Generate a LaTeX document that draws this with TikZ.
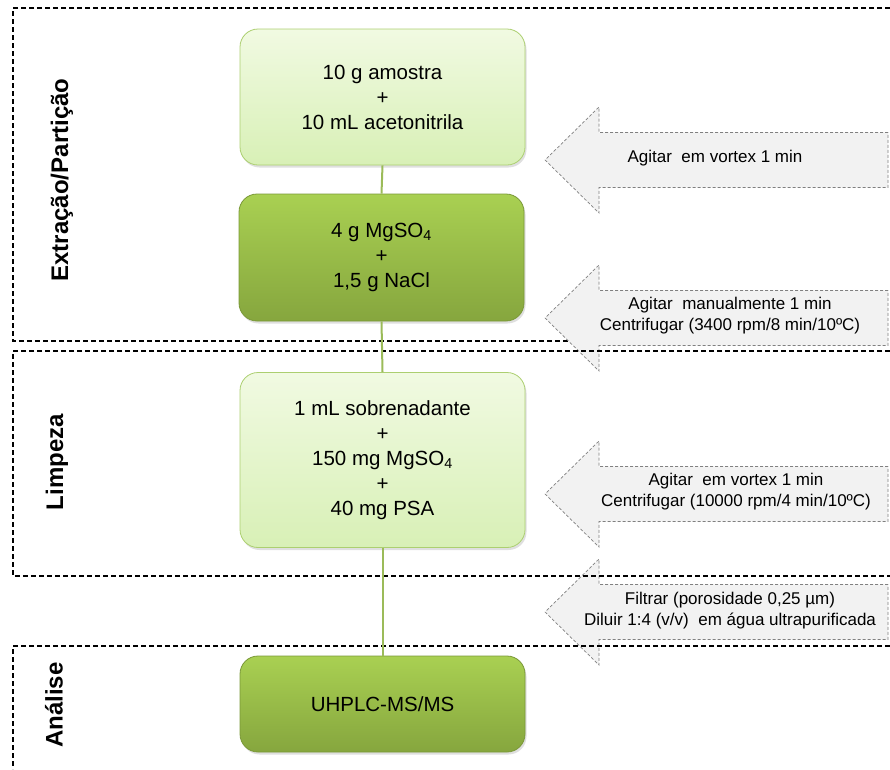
\documentclass[tikz,border=0pt]{standalone}
\usepackage{fontspec}
\setmainfont{Liberation Sans}
\usetikzlibrary{shadows}

\definecolor{lightfill}{RGB}{241,250,226}
\definecolor{lightfillb}{RGB}{216,240,182}
\definecolor{lightedge}{RGB}{172,207,112}
\definecolor{darkfill}{RGB}{169,208,82}
\definecolor{darkfillb}{RGB}{134,166,62}
\definecolor{darkedge}{RGB}{122,152,56}
\definecolor{linkgreen}{RGB}{155,187,89}
\definecolor{arrowfill}{RGB}{242,242,242}

\tikzset{
  frame/.style={draw=black, line width=1.4pt, dash pattern=on 5pt off 3pt},
  lightbox/.style={rounded corners=18pt, minimum width=285pt, align=center,
    top color=lightfill, bottom color=lightfillb, draw=lightedge, line width=0.8pt,
    drop shadow={opacity=0.25, shadow xshift=1.5pt, shadow yshift=-2.5pt},
    font=\fontsize{20.5}{25}\selectfont},
  darkbox/.style={lightbox, top color=darkfill, bottom color=darkfillb, draw=darkedge},
  phase/.style={rotate=90, font=\fontsize{24}{28}\selectfont\bfseries},
  blockarrow/.style={fill=arrowfill, draw=gray, line width=0.7pt, densely dashed},
  arrowtext/.style={align=center, font=\fontsize{17}{21}\selectfont},
  link/.style={draw=linkgreen, line width=2pt}
}

\begin{document}
\begin{tikzpicture}[x=1pt, y=-1pt]
        \useasboundingbox (0,0) rectangle (890,769);

        % ---phase frames (first one under the arrows)
        \draw[frame] (890,8) -- (13,8) -- (13,341) -- (890,341);

        % ---steps
        \foreach \c in {160,318,494,612}
          \draw[blockarrow] (888,\c-27.5) -- (599,\c-27.5) -- (599,\c-53) -- (545,\c)
            -- (599,\c+53) -- (599,\c+27.5) -- (888,\c+27.5) -- cycle;

        \draw[frame] (890,351) -- (13,351) -- (13,576) -- (890,576);
        \draw[frame] (890,646) -- (13,646) -- (13,769);

        \node[arrowtext] (vortex) at (715,158) {Agitar\ \ em vortex 1 min};
        \node[arrowtext] (centrA) at (730,316) {Agitar\ \ manualmente 1 min\\Centrifugar (3400 rpm/8 min/10ºC)};
        \node[arrowtext] (centrB) at (736,492) {Agitar\ \ em vortex 1 min\\Centrifugar (10000 rpm/4 min/10ºC)};
        \node[arrowtext] (filtro) at (730,610.5) {Filtrar (porosidade 0,25 µm)\\Diluir 1:4 (v/v)\ \ em água ultrapurificada};

        % ---phase labels
        \node[phase] (extr) at (62,180) {Extração/Partição};
        \node[phase] (limp) at (57,462) {Limpeza};
        \node[phase] (anal) at (54,705) {Análise};

        % ---sample path
        \node[lightbox, minimum height=136pt] (amostra) at (382.5,97) {10 g amostra\\+\\10 mL acetonitrila};
        \node[darkbox, minimum height=127pt] (sais) at (381.5,257.5) {4 g MgSO\textsubscript{4}\\+\\1,5 g NaCl};
        \node[lightbox, minimum height=175pt] (limpeza) at (382.5,460) {1 mL sobrenadante\\+\\150 mg MgSO\textsubscript{4}\\+\\40 mg PSA};
        \node[darkbox, minimum height=96pt] (uhplc) at (382.5,704) {UHPLC-MS/MS};

        \draw[link] (amostra.south) -- (sais.north);
        \draw[link] (sais.south) -- (limpeza.north);
        \draw[link] (limpeza.south) -- (uhplc.north);

\end{tikzpicture}
\end{document}
